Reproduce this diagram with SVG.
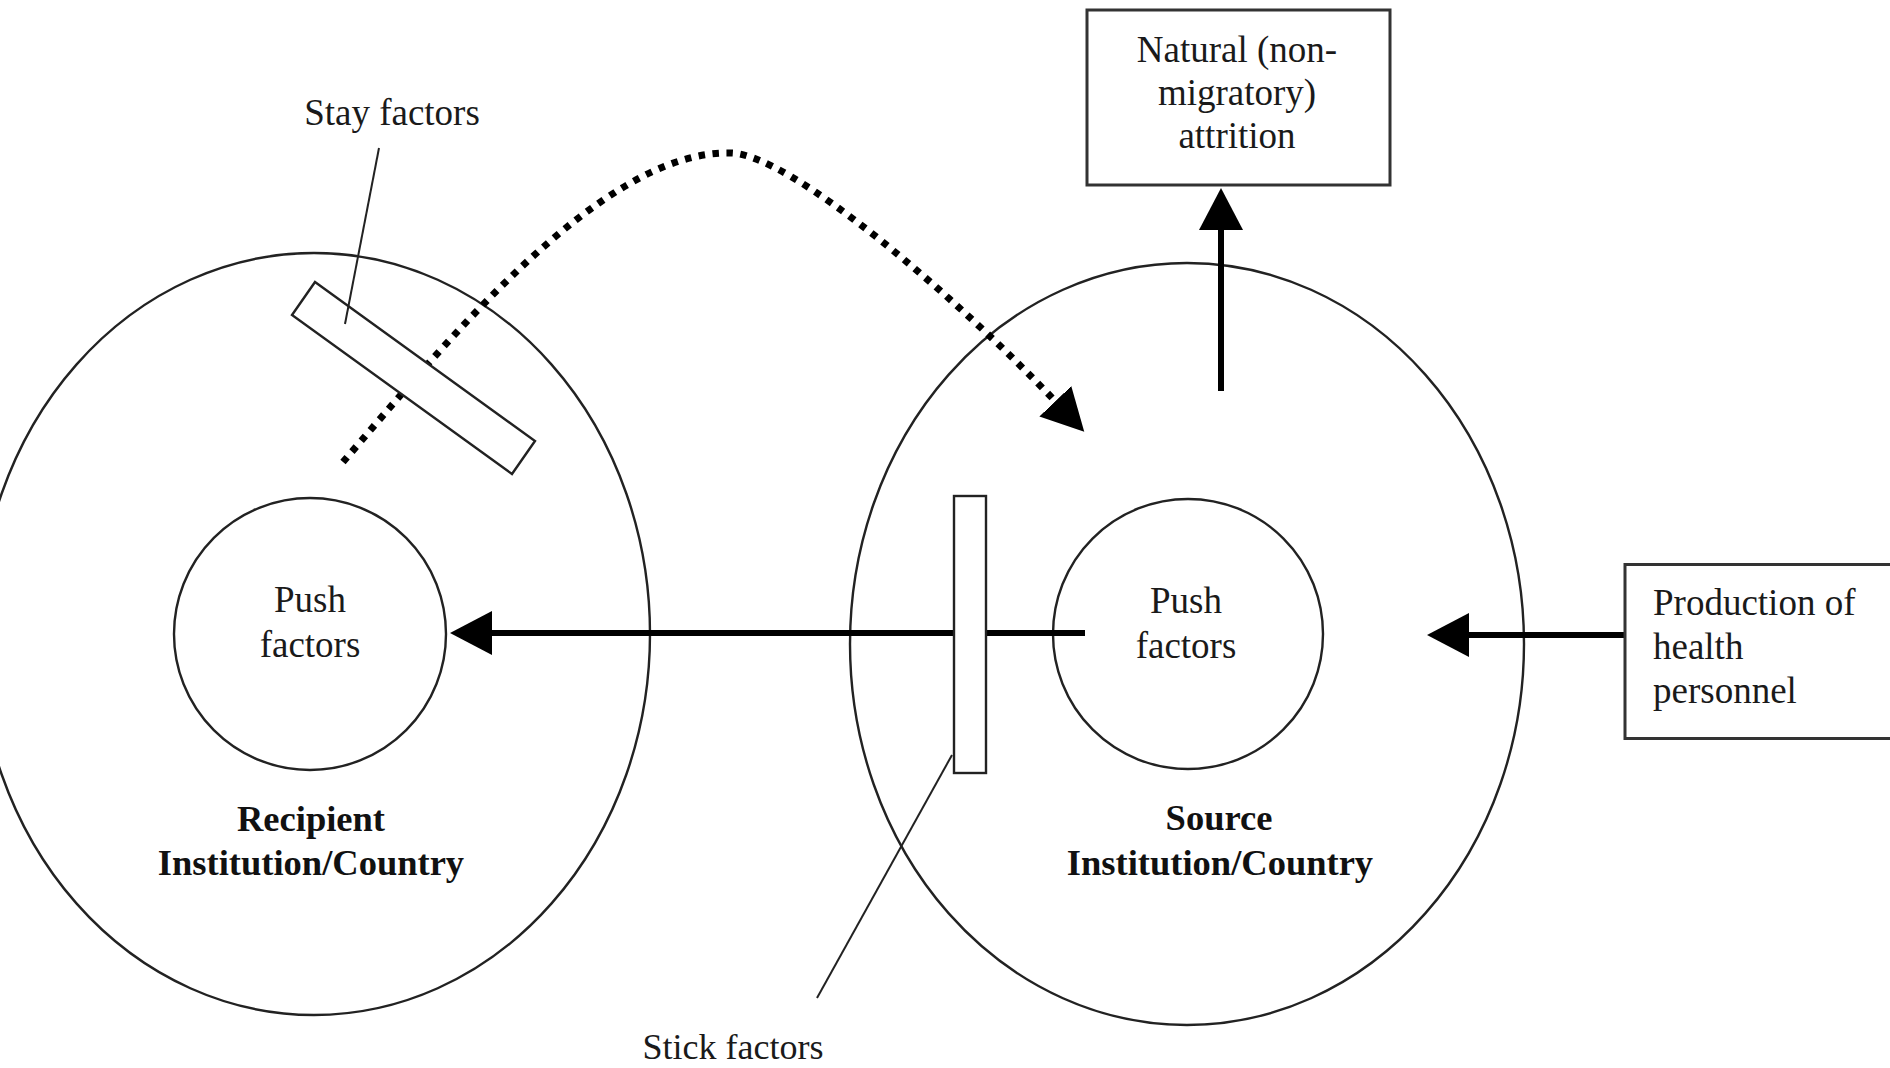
<svg xmlns="http://www.w3.org/2000/svg" width="1890" height="1068" viewBox="0 0 1890 1068">
<defs>
<style>
.ring{fill:none;stroke:#222;stroke-width:2.4}
.box{fill:#fff;stroke:#333;stroke-width:3}
.bar{fill:#fff;stroke:#222;stroke-width:2.4}
.flow{fill:none;stroke:#000;stroke-width:6}
.dots{fill:none;stroke:#000;stroke-width:7;stroke-dasharray:6.5 7.5}
.lead{fill:none;stroke:#222;stroke-width:2}
.t{font-family:"Liberation Serif","Times New Roman",serif;font-size:37px;fill:#1a1a1a}
.b{font-family:"Liberation Serif","Times New Roman",serif;font-size:36.5px;font-weight:bold;fill:#111}
</style>
<marker id="ah" markerUnits="userSpaceOnUse" markerWidth="44" markerHeight="46" viewBox="0 -23 44 46" refX="1" refY="0" orient="auto">
<path d="M0,-22 L42,0 L0,22 Z" fill="#000"/>
</marker>
</defs>
<rect width="1890" height="1068" fill="#fff"/>

<g id="recipient">
<ellipse class="ring" cx="314" cy="634" rx="336" ry="381"/>
<circle class="ring" cx="310" cy="634" r="136"/>
</g>
<g id="source">
<ellipse class="ring" cx="1187" cy="644" rx="337" ry="381"/>
<circle class="ring" cx="1188" cy="634" r="135"/>
</g>

<g id="connectors">
<path class="dots" d="M343,462 C440,350 600,150 730,153 C790,153 958,299 1056,402" marker-end="url(#ah)"/>
<line class="flow" x1="1085" y1="633" x2="491" y2="633" marker-end="url(#ah)"/>
<line class="flow" x1="1625" y1="635" x2="1468" y2="635" marker-end="url(#ah)"/>
<line class="flow" x1="1221" y1="391" x2="1221" y2="229" marker-end="url(#ah)"/>
</g>

<g id="stay-factors">
<polygon class="bar" points="315,282 535,441 512,474 292,315"/>
<line class="lead" x1="379" y1="148" x2="345" y2="324"/>
<text class="t" x="392" y="125" text-anchor="middle">Stay factors</text>
</g>

<g id="stick-factors">
<rect class="bar" x="954" y="496" width="32" height="277"/>
<line class="lead" x1="952" y1="755" x2="817" y2="998"/>
<text class="t" x="733" y="1059" text-anchor="middle" style="font-size:36px">Stick factors</text>
</g>

<g id="attrition">
<rect class="box" x="1087" y="10" width="303" height="175"/>
<text class="t" x="1237" y="62" text-anchor="middle">Natural (non-</text>
<text class="t" x="1237" y="105" text-anchor="middle">migratory)</text>
<text class="t" x="1237" y="148" text-anchor="middle">attrition</text>
</g>

<g id="production">
<rect class="box" x="1625" y="564.5" width="290" height="174"/>
<text class="t" x="1653" y="615">Production of</text>
<text class="t" x="1653" y="659">health</text>
<text class="t" x="1653" y="703">personnel</text>
</g>

<g id="recipient-labels">
<text class="t" x="310" y="612" text-anchor="middle">Push</text>
<text class="t" x="310" y="657" text-anchor="middle">factors</text>
<text class="b" x="311" y="831" text-anchor="middle">Recipient</text>
<text class="b" x="311" y="875" text-anchor="middle">Institution/Country</text>
</g>

<g id="source-labels">
<text class="t" x="1186" y="613" text-anchor="middle">Push</text>
<text class="t" x="1186" y="658" text-anchor="middle">factors</text>
<text class="b" x="1219" y="830" text-anchor="middle">Source</text>
<text class="b" x="1220" y="875" text-anchor="middle">Institution/Country</text>
</g>
</svg>
